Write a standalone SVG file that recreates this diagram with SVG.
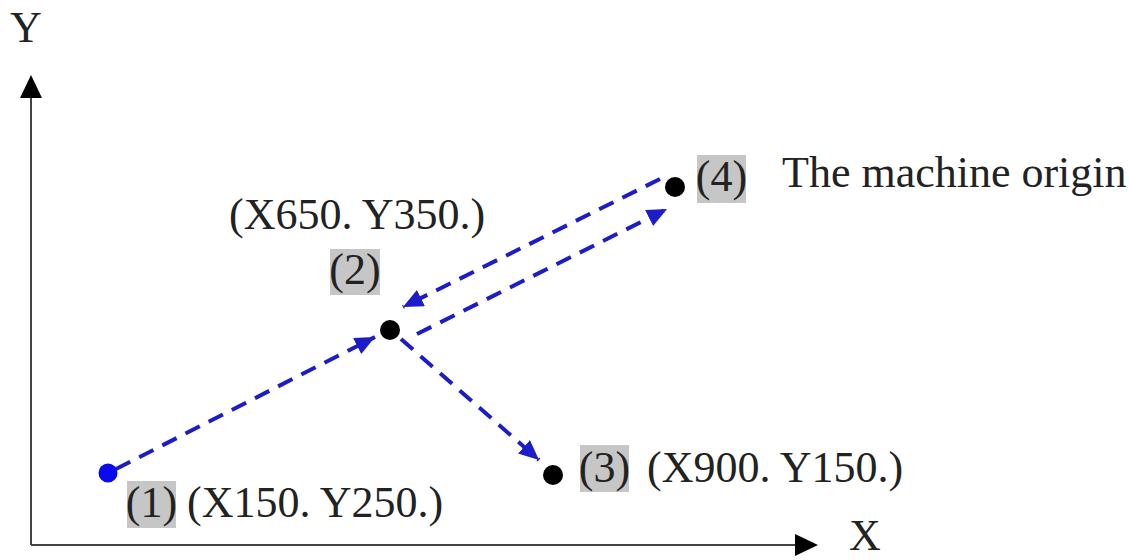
<svg xmlns="http://www.w3.org/2000/svg" width="1131" height="560" viewBox="0 0 1131 560">
  <style>
    .t { font-family: "Liberation Serif", "Times New Roman", serif; font-size: 44px; fill: #222; }
    .box { fill: #c6c6c6; }
    .axis { stroke: #444; stroke-width: 2; fill: none; }
    .dash { stroke: #1c1cc8; stroke-width: 4; fill: none; stroke-dasharray: 16 10; marker-end: url(#ah); }
    .pt { fill: #000; }
  </style>
  <defs>
    <marker id="ah" markerUnits="userSpaceOnUse" markerWidth="22" markerHeight="20" refX="20" refY="9" orient="auto">
      <path d="M0,0 L20,9 L0,18 z" fill="#1c1cc8"/>
    </marker>
  </defs>
  <rect width="1131" height="560" fill="#fff"/>

  <g id="axes">
    <line class="axis" x1="31" y1="96" x2="31" y2="545"/>
    <polygon points="31,75 20,98 42,98" fill="#000"/>
    <line class="axis" x1="31" y1="545" x2="797" y2="545"/>
    <polygon points="818,545 795,534 795,556" fill="#000"/>
    <text class="t" x="10" y="42">Y</text>
    <text class="t" x="849" y="550">X</text>
  </g>

  <g id="connectors">
    <line class="dash" x1="116" y1="469" x2="375" y2="337"/>
    <line class="dash" x1="417" y1="334" x2="667" y2="209"/>
    <line class="dash" x1="660" y1="179" x2="403" y2="307"/>
    <line class="dash" x1="401" y1="339" x2="539" y2="460"/>
  </g>

  <g id="p1">
    <circle cx="108" cy="473" r="9.5" fill="#0a0aee"/>
    <rect class="box" x="127" y="481" width="49" height="47"/>
    <text class="t" x="151.5" y="517" text-anchor="middle">(1)</text>
    <text class="t" x="187" y="517">(X150. Y250.)</text>
  </g>

  <g id="p2">
    <circle class="pt" cx="390" cy="330" r="10"/>
    <rect class="box" x="330" y="249" width="50" height="46"/>
    <text class="t" x="355" y="284" text-anchor="middle">(2)</text>
    <text class="t" x="229" y="229">(X650. Y350.)</text>
  </g>

  <g id="p3">
    <circle class="pt" cx="553" cy="475" r="10"/>
    <rect class="box" x="580" y="445" width="49" height="47"/>
    <text class="t" x="604.5" y="482" text-anchor="middle">(3)</text>
    <text class="t" x="647" y="482">(X900. Y150.)</text>
  </g>

  <g id="p4">
    <circle class="pt" cx="675" cy="187" r="10"/>
    <rect class="box" x="697" y="155" width="49" height="48"/>
    <text class="t" x="721.5" y="191" text-anchor="middle">(4)</text>
    <text class="t" x="782" y="187">The machine origin</text>
  </g>
</svg>
